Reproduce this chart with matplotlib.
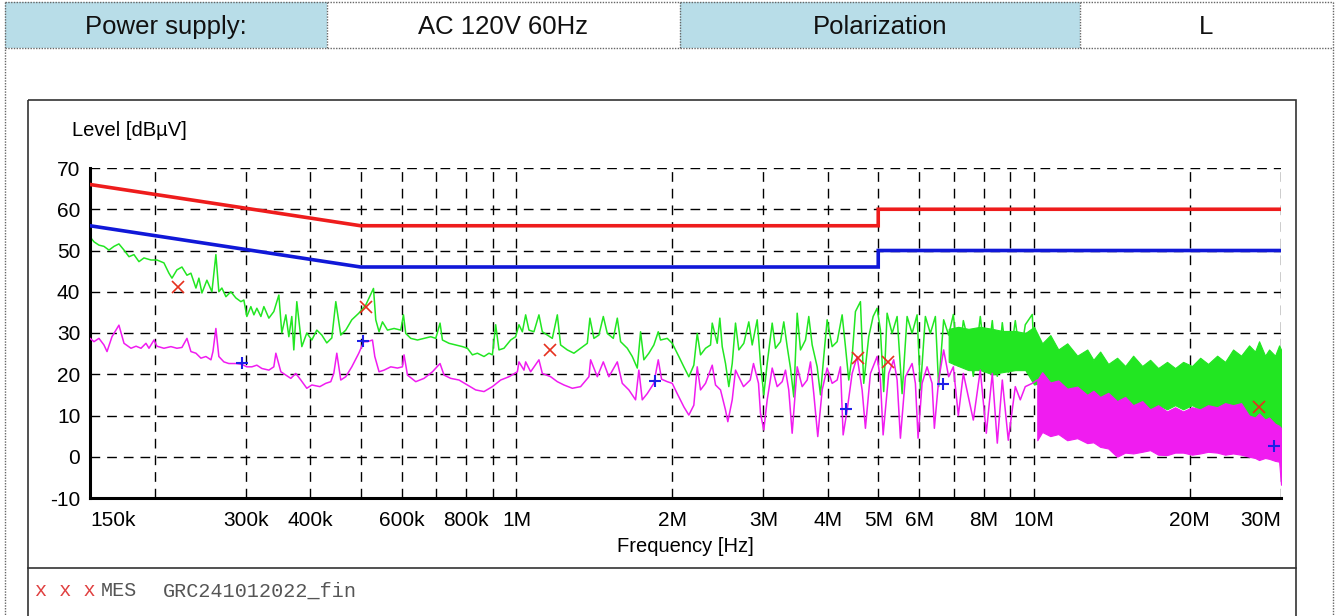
import matplotlib
matplotlib.use("Agg")
import matplotlib.pyplot as plt
from matplotlib.patches import Rectangle
from matplotlib.ticker import FixedLocator, NullFormatter
import numpy as np

plt.rcParams["font.family"] = ["Liberation Sans", "DejaVu Sans"]
plt.rcParams["axes.unicode_minus"] = False

# ---- data ----
# peak trace (green), frequency in kHz
peak_khz = [150.0, 152.7, 156.1, 159.6, 163.2, 166.9, 170.6, 174.5, 178.4, 182.4,
            186.5, 190.7, 196.7, 202.0, 208.4, 213.1, 216.0, 220.8, 225.8, 230.9,
            235.0, 240.3, 243.5, 246.8, 252.3, 258.0, 262.6, 266.1, 269.7, 274.6,
            280.7, 287.0, 293.5, 297.4, 301.4, 306.8, 311.0, 315.1, 320.8, 325.1,
            332.4, 339.8, 347.5, 352.1, 358.5, 363.3, 368.1, 371.4, 376.4, 384.9,
            393.5, 402.4, 411.4, 420.7, 430.1, 439.8, 447.7, 457.7, 468.0, 480.7,
            495.9, 511.6, 529.4, 534.8, 542.7, 551.0, 563.4, 580.2, 597.7, 604.9,
            611.1, 624.9, 643.8, 663.0, 683.0, 698.4, 711.8, 719.5, 740.9, 763.3,
            786.3, 804.0, 822.1, 840.6, 865.6, 885.0, 898.5, 911.7, 925.2, 946.0,
            974.6, 996.5, 1011.2, 1026.6, 1041.8, 1057.2, 1080.9, 1105.2, 1122.0, 1147.2,
            1173.0, 1199.4, 1217.1, 1253.9, 1291.2, 1330.3, 1370.6, 1386.5, 1411.4, 1443.1,
            1471.6, 1498.0, 1538.6, 1566.2, 1589.3, 1637.3, 1674.1, 1711.7, 1737.0, 1762.7,
            1802.3, 1842.7, 1879.2, 1898.5, 1955.9, 1999.8, 2059.4, 2105.7, 2153.1, 2201.4,
            2235.0, 2268.0, 2319.0, 2371.2, 2389.2, 2442.9, 2471.3, 2497.8, 2534.7, 2572.2,
            2611.4, 2649.9, 2689.1, 2749.5, 2811.3, 2854.1, 2918.3, 2961.5, 3005.3, 3051.0,
            3119.6, 3165.6, 3236.9, 3284.7, 3334.7, 3384.0, 3434.0, 3486.5, 3538.1, 3617.6,
            3671.0, 3726.9, 3810.6, 3866.9, 3924.0, 3983.7, 4073.3, 4164.9, 4258.5, 4321.5,
            4385.4, 4452.2, 4517.9, 4619.4, 4687.5, 4793.0, 4887.6, 4975.4, 5048.9, 5123.6,
            5201.6, 5318.4, 5438.1, 5560.2, 5685.2, 5813.0, 5943.6, 6031.2, 6166.7, 6305.3,
            6447.0, 6542.1, 6689.1, 6839.4, 6983.9, 7140.7, 7301.2, 7467.0, 7632.8, 7873.5,
            8086.8, 8305.2, 8491.9, 8682.8, 8917.5, 9199.5, 9406.4, 9617.9, 9921.9, 10000.0]
peak_db = [53.3, 52.1, 51.3, 51.0, 50.1, 51.0, 51.6, 50.1, 48.5, 49.0,
           47.3, 48.2, 47.7, 47.7, 47.0, 44.5, 43.3, 45.3, 46.0, 44.0,
           44.5, 40.9, 43.3, 39.7, 42.8, 40.0, 49.0, 40.0, 40.9, 38.8,
           40.0, 38.5, 37.6, 38.0, 34.0, 36.4, 34.4, 36.0, 34.0, 36.4,
           33.6, 35.2, 39.2, 30.0, 34.4, 29.1, 34.0, 25.9, 37.6, 26.7,
           30.0, 28.3, 30.7, 29.5, 27.6, 28.8, 37.6, 29.5, 30.7, 33.2,
           34.8, 36.8, 40.8, 33.2, 30.3, 32.7, 30.7, 31.1, 30.7, 34.4,
           29.9, 28.7, 28.3, 28.7, 29.1, 28.7, 32.4, 28.3, 27.5, 27.1,
           26.7, 26.3, 24.7, 25.1, 24.3, 25.1, 24.7, 32.0, 25.9, 26.3,
           28.3, 29.1, 32.0, 30.3, 34.4, 30.7, 30.3, 34.4, 30.3, 29.5,
           28.7, 34.4, 27.1, 25.9, 25.1, 26.3, 27.5, 33.6, 28.7, 29.5,
           34.0, 29.9, 28.7, 33.6, 27.9, 26.3, 24.3, 21.5, 30.3, 23.5,
           25.1, 27.1, 30.3, 28.3, 28.7, 27.5, 24.3, 21.8, 19.4, 22.2,
           29.9, 24.7, 26.3, 27.1, 32.4, 27.5, 33.6, 26.7, 22.6, 17.0,
           22.6, 32.4, 25.9, 27.5, 32.7, 27.1, 33.2, 22.6, 15.0, 22.6,
           32.4, 26.3, 27.9, 32.7, 26.7, 21.5, 14.5, 34.8, 25.9, 28.3,
           34.0, 27.1, 21.8, 15.0, 24.3, 33.2, 26.7, 27.9, 34.4, 26.7,
           18.6, 24.3, 35.2, 37.6, 17.8, 29.1, 34.0, 36.0, 30.7, 15.8,
           34.8, 29.9, 34.0, 15.3, 34.0, 29.9, 34.4, 16.2, 34.0, 29.9,
           34.0, 17.0, 33.2, 29.5, 34.5, 22.0, 33.0, 28.0, 19.5, 34.0,
           21.0, 33.0, 19.5, 32.5, 20.5, 33.0, 24.0, 32.0, 34.5, 25.0]

# average trace (magenta), frequency in kHz
avg_khz = [150.0, 152.7, 156.1, 159.6, 161.8, 165.4, 170.6, 174.5, 180.0, 184.1,
           188.2, 192.4, 195.0, 199.4, 202.0, 208.4, 215.0, 220.8, 225.8, 230.9,
           235.0, 240.3, 245.7, 251.2, 256.9, 259.2, 262.6, 266.1, 272.1, 278.2,
           287.0, 294.8, 301.4, 308.2, 315.1, 322.2, 332.4, 339.8, 342.9, 350.6,
           358.5, 366.5, 374.7, 383.2, 393.5, 402.4, 417.0, 428.2, 437.8, 443.7,
           449.7, 457.7, 468.0, 480.7, 495.9, 507.1, 515.5, 527.0, 532.5, 542.7,
           555.0, 571.7, 589.0, 602.2, 606.5, 615.8, 638.9, 663.0, 688.2, 711.8,
           724.6, 746.5, 774.6, 804.0, 834.2, 865.6, 898.5, 932.2, 967.3, 1004.1,
           1011.2, 1034.0, 1041.8, 1065.2, 1105.2, 1122.0, 1164.2, 1199.4, 1235.1, 1282.1,
           1330.3, 1380.4, 1390.9, 1432.9, 1471.6, 1508.7, 1566.2, 1601.3, 1648.9, 1698.7,
           1723.8, 1750.1, 1789.3, 1842.7, 1879.2, 1907.0, 1955.9, 1999.8, 2044.8, 2105.7,
           2153.1, 2201.4, 2235.0, 2268.0, 2319.0, 2389.2, 2424.4, 2479.0, 2534.7, 2560.8,
           2611.4, 2649.9, 2745.9, 2828.9, 2870.6, 2935.2, 2961.5, 3005.3, 3051.0, 3119.6,
           3189.6, 3261.5, 3309.6, 3358.1, 3409.4, 3486.5, 3564.9, 3644.9, 3698.9, 3753.6,
           3820.8, 3896.3, 3983.7, 4073.3, 4164.9, 4226.4, 4277.4, 4354.1, 4452.2, 4552.2,
           4654.2, 4723.1, 4829.3, 4975.4, 5048.9, 5109.9, 5238.7, 5356.4, 5438.1, 5518.3,
           5642.3, 5813.0, 5898.8, 5970.0, 6077.0, 6213.4, 6353.0, 6418.2, 6542.1, 6689.1,
           6839.4, 6983.9, 7140.7, 7301.2, 7632.8, 7873.5, 8086.8, 8305.2, 8491.9, 8682.8,
           8917.5, 9199.5, 9406.4, 9617.9, 9921.9, 10145.0]
avg_db = [28.7, 27.9, 28.7, 27.1, 25.5, 29.1, 31.9, 27.5, 26.3, 26.8,
          26.3, 27.5, 26.3, 28.3, 26.8, 26.3, 26.7, 26.3, 26.5, 28.7,
          25.5, 25.1, 23.9, 24.3, 23.5, 25.5, 31.1, 24.3, 23.0, 22.6,
          22.6, 22.4, 21.8, 21.8, 22.2, 21.4, 21.0, 21.8, 25.1, 20.6,
          19.8, 19.0, 20.2, 18.6, 16.6, 17.4, 17.0, 17.8, 18.2, 20.2,
          25.1, 18.6, 19.4, 21.8, 25.1, 27.9, 27.9, 28.3, 24.3, 20.6,
          21.0, 21.8, 21.5, 21.8, 24.7, 19.8, 18.2, 19.0, 20.6, 22.6,
          19.8, 19.0, 18.6, 17.4, 16.2, 15.8, 17.0, 18.6, 19.4, 20.6,
          23.0, 21.0, 23.0, 20.6, 23.5, 20.2, 19.4, 18.2, 17.4, 16.6,
          17.0, 19.4, 23.5, 19.4, 23.0, 19.4, 23.0, 17.8, 16.2, 13.8,
          21.0, 13.8, 15.3, 17.8, 23.5, 18.8, 18.2, 17.8, 15.3, 12.1,
          10.1, 12.5, 21.8, 16.2, 17.8, 22.2, 17.4, 16.2, 11.3, 8.5,
          13.8, 21.0, 17.0, 18.6, 22.6, 17.8, 10.5, 6.5, 13.8, 21.5,
          17.0, 18.2, 21.0, 16.2, 5.7, 21.8, 17.0, 18.6, 23.0, 15.3,
          4.9, 16.2, 21.5, 17.8, 18.6, 21.8, 5.3, 11.3, 20.2, 24.3,
          16.2, 6.9, 20.2, 24.3, 18.6, 5.3, 20.2, 23.5, 18.6, 4.5,
          19.4, 22.6, 17.8, 4.5, 17.8, 21.8, 17.8, 6.9, 18.6, 25.9,
          19.4, 21.8, 10.0, 20.2, 8.9, 21.0, 5.7, 20.2, 3.3, 18.6,
          4.0, 17.0, 13.8, 17.0, 17.8, 18.6]

# dense part of the sweep: envelopes of the traces, frequency in MHz
peak_band_mhz = [6.84, 7.14, 7.47, 7.87, 8.31, 8.68, 9.2, 9.62,
                 10.0, 10.37, 10.75, 11.14, 11.59, 12.12, 12.67, 13.02, 13.42, 13.91,
                 14.47, 15.0, 15.54, 16.18, 16.76, 17.37, 18.07, 18.73, 19.41, 20.2,
                 20.94, 21.69, 22.58, 23.4, 24.24, 25.12, 26.03, 26.73, 27.21, 27.95,
                 28.45, 29.22, 29.75, 30.0]
peak_band_hi = [31.0, 31.5, 31.0, 31.5, 31.0, 30.5, 30.5, 30.0,
                31.5, 27.5, 29.5, 26.0, 27.5, 24.5, 26.0, 23.5, 25.5, 22.5,
                24.0, 22.0, 24.5, 22.0, 23.5, 21.5, 23.0, 21.5, 23.0, 22.0,
                24.0, 22.5, 24.5, 23.0, 26.0, 24.5, 27.0, 25.5, 28.0, 24.5,
                26.0, 24.5, 27.0, 26.0]
peak_band_lo = [23.0, 22.0, 21.0, 21.0, 20.0, 20.5, 21.0, 21.0,
                17.5, 18.0, 16.0, 16.5, 14.5, 15.0, 13.0, 14.0, 12.5, 13.5,
                12.0, 13.0, 11.5, 12.5, 11.5, 12.5, 11.5, 12.5, 11.5, 12.5,
                11.5, 12.5, 11.5, 12.5, 11.5, 11.0, 9.0, 8.5, 8.0, 9.0,
                7.5, 7.0, 6.5, 6.0]
avg_band_mhz = [10.145, 10.37, 10.75, 11.14, 11.59, 12.12, 12.67, 13.02, 13.42, 13.91,
                14.47, 15.0, 15.54, 16.18, 16.76, 17.37, 18.07, 18.73, 19.41, 20.2,
                20.94, 21.69, 22.58, 23.4, 24.24, 25.12, 26.03, 26.73, 27.21, 27.95,
                28.45, 29.22, 29.75, 30.0]
avg_band_hi = [18.6, 20.5, 18.0, 18.5, 16.5, 17.0, 15.0, 16.0, 14.5, 15.5,
               13.5, 14.5, 12.5, 13.5, 11.5, 12.5, 11.0, 12.0, 11.0, 12.0,
               11.5, 12.5, 12.0, 13.0, 12.5, 13.0, 10.0, 9.5, 10.5, 9.0,
               9.5, 8.0, 7.5, 7.0]
avg_band_lo = [4.0, 6.0, 5.0, 5.5, 4.0, 4.5, 3.3, 3.5, 2.4, 2.0,
               0.0, 1.0, 0.8, 1.2, 1.6, 0.5, 0.4, 1.0, 1.0, 0.5,
               0.8, 1.2, 1.0, 0.5, 0.8, 0.5, 0.0, -0.3, -0.8, -0.3,
               -0.5, -1.0, -1.2, -6.8]

# limit lines (MHz / dBuV)
limit_mhz = [0.15, 0.5, 5.0, 5.0, 30.0]
qp_limit = [66, 56, 56, 60, 60]
av_limit = [56, 46, 46, 50, 50]

# final measurements
qp_mhz = [0.222, 0.511, 1.16, 4.57, 5.22, 27.2]
qp_db = [41.2, 36.4, 25.9, 23.9, 22.9, 12.1]
av_mhz = [0.295, 0.506, 1.85, 4.33, 6.67, 29.1]
av_db = [22.7, 28.1, 18.4, 11.6, 17.6, 2.6]

# axis ticks
tick_hz = [150e3, 300e3, 400e3, 600e3, 800e3, 1e6, 2e6, 3e6, 4e6, 5e6, 6e6, 8e6, 10e6, 20e6, 30e6]
tick_txt = ["150k", "300k", "400k", "600k", "800k", "1M", "2M", "3M", "4M", "5M", "6M", "8M", "10M", "20M", "30M"]
grid_hz = [200e3, 500e3, 700e3, 900e3, 7e6, 9e6]
level_ticks = [-10, 0, 10, 20, 30, 40, 50, 60, 70]

header = ["Power supply:", "AC 120V 60Hz", "Polarization", "L"]

GREEN = "#22e622"
MAGENTA = "#f01cf0"
RED = "#ee1c1c"
BLUE = "#1018d8"

W, H = 1338, 616
fig = plt.figure(figsize=(W / 100, H / 100), dpi=100)

# page furniture drawn in pixel coordinates
bg = fig.add_axes([0, 0, 1, 1])
bg.set_xlim(0, W)
bg.set_ylim(H, 0)
bg.axis("off")

cells = [(5, 327, "#b8dde8"), (327, 680, "white"), (680, 1080, "#b8dde8"), (1080, 1333, "white")]
for (x0, x1, col), txt in zip(cells, header):
    bg.add_patch(Rectangle((x0, 2), x1 - x0, 46, facecolor=col, edgecolor="none"))
    bg.text((x0 + x1) / 2, 27, txt, ha="center", va="center", fontsize=18.5, color="#111111")
dot = dict(color="#666666", lw=1.0, ls=(0, (1, 1)))
bg.plot([5, 1333], [2, 2], **dot)
bg.plot([5, 1333], [48, 48], **dot)
bg.plot([5, 5], [2, H], **dot)
bg.plot([1333, 1333], [2, H], **dot)
for x in (327, 680, 1080):
    bg.plot([x, x], [2, 48], **dot)

bg.add_patch(Rectangle((28, 100), 1268, 530, fill=False, edgecolor="#333333", lw=1.2))
bg.plot([28, 1296], [568, 568], color="#333333", lw=1.2)

bg.text(72, 130, "Level [dBµV]", ha="left", va="center", fontsize=14.5)
bg.text(685, 547, "Frequency [Hz]", ha="center", va="center", fontsize=14.5)

mono = ["Liberation Mono", "DejaVu Sans Mono"]
bg.text(35, 591, "x x x", family=mono, fontsize=14.5, color="#e04040", va="center")
bg.text(101, 591, "MES", family=mono, fontsize=14.5, color="#555555", va="center")
bg.text(163, 591, "GRC241012022_fin", family=mono, fontsize=14.5, color="#555555", va="center")

# the diagram
ax = fig.add_axes([90 / W, 1 - 498 / H, 1191 / W, 330 / H])
ax.set_facecolor("none")
ax.set_xscale("log")

ax.fill_between(np.array(peak_band_mhz) * 1e6, peak_band_lo, peak_band_hi,
                color=GREEN, lw=0.8, zorder=2)
ax.plot(np.array(peak_khz) * 1e3, peak_db, color=GREEN, lw=1.1, zorder=2)
ax.plot(np.array(avg_khz) * 1e3, avg_db, color=MAGENTA, lw=1.1, zorder=3)
ax.fill_between(np.array(avg_band_mhz) * 1e6, avg_band_lo, avg_band_hi,
                color=MAGENTA, lw=0.8, zorder=3)

f_lim = np.array(limit_mhz) * 1e6
ax.plot(f_lim, qp_limit, color=RED, lw=2.6, zorder=4, solid_joinstyle="miter")
ax.plot(f_lim, av_limit, color=BLUE, lw=2.6, zorder=4, solid_joinstyle="miter")

ax.plot(np.array(qp_mhz) * 1e6, qp_db, ls="none", marker="x", ms=8, mew=1.2,
        color="#e6301e", zorder=5)
ax.plot(np.array(av_mhz) * 1e6, av_db, ls="none", marker="+", ms=9, mew=1.5,
        color="#1f1fe8", zorder=5)

ax.set_xlim(150e3, 30e6)
ax.set_ylim(-10, 70)

ax.xaxis.set_major_locator(FixedLocator(tick_hz))
ax.set_xticklabels(tick_txt)
ax.xaxis.set_minor_locator(FixedLocator(grid_hz))
ax.xaxis.set_minor_formatter(NullFormatter())
ax.set_yticks(level_ticks)
labels = ax.get_xticklabels()
labels[0].set_ha("left")
labels[-1].set_ha("right")

ax.tick_params(which="both", length=0)
ax.tick_params(axis="x", labelsize=15, pad=9)
ax.tick_params(axis="y", labelsize=15, pad=7)

dash = dict(color="black", lw=1.0, ls=(0, (7, 5)))
ax.grid(which="both", axis="x", **dash)
ax.grid(which="major", axis="y", **dash)
ax.set_axisbelow(True)

for side in ("top", "right"):
    ax.spines[side].set_visible(False)
for side in ("left", "bottom"):
    ax.spines[side].set_linewidth(2.2)

fig.savefig("out.png", dpi=100)
